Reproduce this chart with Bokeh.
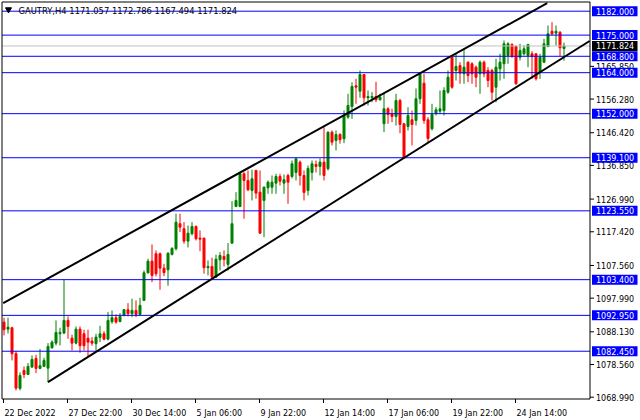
from bokeh.plotting import figure
from bokeh.models import Range1d, ColumnDataSource
from bokeh.core.properties import value
from bokeh.embed import file_html
from bokeh.resources import INLINE

# ---------------- data ----------------
symbol = "GAUTRY,H4"

opens = [1090.97, 1088.92, 1089.33, 1081.72, 1071.56, 1076.83, 1075.66, 1077.80, 1080.34, 1077.42,
         1078.00, 1077.50, 1083.48, 1084.82, 1087.57, 1087.75, 1091.47, 1086.28, 1084.82, 1088.92,
         1087.57, 1086.28, 1085.41, 1084.65, 1086.49, 1087.57, 1085.99, 1091.08, 1092.26, 1091.17,
         1092.93, 1094.60, 1093.43, 1094.39, 1093.22, 1097.33, 1105.43, 1108.82, 1110.99, 1110.99,
         1106.77, 1106.30, 1110.78, 1112.45, 1119.77, 1118.31, 1114.68, 1116.84, 1118.98, 1115.56,
         1115.56, 1106.89, 1107.27, 1104.14, 1109.23, 1110.20, 1107.86, 1114.09, 1124.83, 1124.83,
         1134.40, 1132.44, 1129.52, 1135.37, 1129.02, 1126.59, 1130.31, 1130.48, 1131.66, 1133.61,
         1131.66, 1133.91, 1133.61, 1134.78, 1137.80, 1133.91, 1129.52, 1134.78, 1137.13, 1136.54,
         1137.80, 1135.87, 1146.58, 1144.15, 1145.91, 1144.65, 1150.97, 1154.10, 1160.16, 1158.58,
         1163.47, 1156.65, 1156.65, 1157.03, 1156.06, 1149.04, 1153.43, 1151.97, 1151.17, 1155.86,
         1149.04, 1148.25, 1150.21, 1150.01, 1156.36, 1160.92, 1150.21, 1147.58, 1152.14, 1152.73,
         1152.93, 1158.29, 1168.53, 1164.64, 1166.10, 1163.67, 1167.07, 1166.60, 1165.61, 1163.67,
         1167.07, 1164.64, 1164.64, 1159.75, 1165.14, 1166.60, 1169.03, 1172.25, 1171.67, 1168.53,
         1169.53, 1169.03, 1169.53, 1169.53, 1164.14, 1167.07, 1171.67, 1176.14, 1175.56, 1175.85,
         1171.057]
highs = [1092.26, 1092.26, 1089.60, 1082.50, 1076.25, 1078.00, 1078.97, 1081.22, 1081.43, 1083.07,
         1080.55, 1084.82, 1085.61, 1091.47, 1089.33, 1103.38, 1092.64, 1087.28, 1089.71, 1089.71,
         1088.74, 1088.74, 1086.58, 1087.57, 1089.91, 1088.33, 1093.90, 1094.39, 1093.22, 1093.60,
         1094.80, 1096.53, 1097.82, 1097.33, 1098.11, 1106.10, 1109.52, 1113.71, 1111.95, 1111.37,
         1108.06, 1111.37, 1112.92, 1122.70, 1122.70, 1120.24, 1119.27, 1120.24, 1119.27, 1117.81,
         1115.70, 1109.03, 1109.82, 1110.70, 1111.46, 1111.95, 1114.09, 1126.38, 1129.02, 1134.58,
         1134.87, 1135.37, 1135.58, 1135.58, 1135.37, 1130.69, 1132.44, 1133.91, 1134.40, 1134.40,
         1134.20, 1134.40, 1138.30, 1139.09, 1138.30, 1135.37, 1136.84, 1138.30, 1138.30, 1138.89,
         1148.04, 1146.80, 1147.08, 1147.08, 1146.29, 1152.93, 1157.82, 1161.22, 1162.21, 1164.64,
         1163.60, 1158.79, 1158.29, 1161.33, 1157.82, 1157.82, 1153.90, 1153.43, 1157.82, 1156.36,
         1149.30, 1153.90, 1152.93, 1159.37, 1163.85, 1163.67, 1150.97, 1154.89, 1153.90, 1158.79,
         1159.75, 1164.64, 1168.74, 1169.53, 1167.07, 1170.99, 1167.30, 1167.07, 1166.10, 1167.57,
         1167.57, 1165.61, 1165.14, 1168.07, 1169.53, 1173.42, 1172.92, 1172.63, 1171.96, 1172.46,
         1171.96, 1172.46, 1170.29, 1169.70, 1169.53, 1173.92, 1177.81, 1178.78, 1177.81, 1176.14,
         1172.786]
lows = [1087.08, 1087.66, 1079.76, 1070.98, 1070.98, 1074.58, 1075.46, 1077.60, 1076.04, 1077.20,
        1077.80, 1073.41, 1083.18, 1084.15, 1084.15, 1087.50, 1086.11, 1082.68, 1084.44, 1082.01,
        1082.68, 1081.02, 1084.06, 1082.68, 1085.11, 1085.61, 1085.61, 1090.50, 1090.50, 1090.88,
        1092.64, 1092.64, 1092.43, 1092.43, 1092.93, 1097.12, 1105.14, 1102.68, 1104.35, 1100.45,
        1104.43, 1101.62, 1110.49, 1111.95, 1117.31, 1113.92, 1112.83, 1116.35, 1114.88, 1111.75,
        1105.14, 1104.64, 1103.67, 1103.96, 1106.10, 1107.27, 1106.10, 1113.92, 1124.63, 1124.63,
        1121.23, 1129.31, 1126.59, 1127.09, 1116.80, 1115.85, 1128.55, 1128.55, 1128.55, 1130.98,
        1128.55, 1125.62, 1133.03, 1132.44, 1130.98, 1126.59, 1128.05, 1132.44, 1134.78, 1133.91,
        1132.44, 1135.37, 1142.69, 1141.23, 1143.19, 1143.36, 1150.50, 1150.50, 1154.89, 1156.65,
        1154.40, 1154.40, 1155.36, 1155.36, 1155.86, 1146.58, 1149.04, 1149.51, 1148.54, 1146.29,
        1138.80, 1147.08, 1142.69, 1148.54, 1154.89, 1149.04, 1143.66, 1147.08, 1151.47, 1151.97,
        1151.47, 1157.82, 1159.29, 1161.71, 1160.75, 1160.75, 1161.22, 1160.75, 1159.75, 1157.82,
        1162.68, 1159.75, 1155.86, 1155.36, 1161.71, 1162.21, 1166.60, 1168.36, 1160.54, 1167.57,
        1169.03, 1165.61, 1162.21, 1161.71, 1162.21, 1166.78, 1171.46, 1174.89, 1171.96, 1168.74,
        1167.494]
closes = [1088.74, 1089.50, 1081.72, 1071.65, 1075.37, 1075.66, 1078.00, 1080.05, 1077.42, 1078.21,
          1079.76, 1083.86, 1085.11, 1087.95, 1087.95, 1091.47, 1089.71, 1084.82, 1088.92, 1084.06,
          1084.06, 1085.11, 1084.82, 1086.58, 1087.57, 1085.99, 1091.47, 1092.26, 1090.97, 1092.64,
          1094.60, 1093.43, 1094.39, 1093.22, 1095.86, 1105.43, 1108.82, 1104.64, 1105.14, 1106.77,
          1105.43, 1111.16, 1112.54, 1120.24, 1118.77, 1114.68, 1117.02, 1118.98, 1115.38, 1115.26,
          1106.89, 1107.27, 1104.14, 1109.41, 1110.49, 1109.32, 1110.78, 1119.77, 1126.59, 1134.40,
          1132.44, 1129.72, 1132.94, 1128.73, 1117.02, 1130.48, 1131.95, 1131.95, 1133.61, 1132.24,
          1132.65, 1131.95, 1137.33, 1138.80, 1133.91, 1128.93, 1135.96, 1137.33, 1136.54, 1137.80,
          1133.91, 1146.58, 1143.66, 1145.91, 1144.36, 1151.47, 1154.40, 1159.96, 1159.75, 1163.47,
          1156.65, 1157.03, 1157.03, 1156.06, 1156.83, 1153.43, 1151.76, 1151.17, 1155.86, 1148.83,
          1139.09, 1151.47, 1148.83, 1156.36, 1163.67, 1150.01, 1144.74, 1151.76, 1153.14, 1153.43,
          1158.79, 1162.68, 1159.75, 1165.81, 1163.85, 1165.61, 1163.18, 1163.67, 1162.68, 1167.07,
          1163.67, 1161.71, 1158.29, 1165.61, 1167.07, 1172.46, 1172.46, 1168.74, 1160.75, 1170.50,
          1170.99, 1172.25, 1168.74, 1162.21, 1168.53, 1172.46, 1175.38, 1175.38, 1176.14, 1171.29,
          1171.824]

date_tick_index = [0, 16, 32, 48, 64, 80, 96, 112, 128]
date_labels = ["22 Dec 2022", "27 Dec 22:00", "30 Dec 14:00", "5 Jan 06:00", "9 Jan 22:00",
               "12 Jan 14:00", "17 Jan 06:00", "19 Jan 22:00", "24 Jan 14:00"]
price_ticks = [1068.990, 1078.560, 1088.130, 1097.990, 1107.560, 1117.420,
               1126.990, 1136.850, 1146.420, 1156.280, 1165.850]
level_prices = [1182.000, 1175.000, 1168.800, 1164.000, 1152.000,
                1139.100, 1123.550, 1103.400, 1092.950, 1082.450]
last_price = 1171.824
upper_channel_x = [-0.2, 135.8]
upper_channel_y = [1096.53, 1184.34]
lower_channel_x = [11.0, 146.4]
lower_channel_y = [1073.41, 1173.28]

# ---------------- layout / scales ----------------
W, H = 640, 420
XPX = 4.0                      # pixels per candle slot
x_start = -3.5 / XPX           # candle 0 centred at pixel 3.5
x_end = x_start + W / XPX
PY = 3.4156                    # pixels per price unit
y_end = 1185.133               # price at the top pixel row
y_start = y_end - H / PY


def px_x(px):
    return x_start + px / XPX


def px_y(px):
    return y_end - px / PY


def dx(px):
    return px / XPX


def dy(px):
    return px / PY


X_LEFT = px_x(1.5)
X_RIGHT = px_x(589.5)
Y_TOP = px_y(1.5)
Y_BOT = px_y(398.5)

FONT = value("DejaVu Sans")
FS = "8px"
BULL = "#008000"
BEAR = "#FF0000"

p = figure(width=W, height=H, x_range=Range1d(x_start, x_end), y_range=Range1d(y_start, y_end),
           output_backend="svg", toolbar_location=None,
           x_axis_location=None, y_axis_location=None, min_border=0,
           background_fill_color="white", border_fill_color="white")
p.outline_line_color = None
p.grid.visible = False

# candles
n = len(opens)
idx = list(range(n))
colors = [BULL if c >= o else BEAR for o, c in zip(opens, closes)]
src = ColumnDataSource(dict(
    x=idx, h=highs, l=lows,
    top=[max(o, c) for o, c in zip(opens, closes)],
    bottom=[min(o, c) for o, c in zip(opens, closes)],
    color=colors))
p.segment(x0="x", y0="l", x1="x", y1="h", line_color="color", line_width=1, source=src)
p.vbar(x="x", width=dx(2), top="top", bottom="bottom", fill_color="color",
       line_color="color", line_width=1, source=src)

# horizontal level lines and current price line
nl = len(level_prices)
p.segment(x0=[X_LEFT] * nl, x1=[X_RIGHT] * nl, y0=level_prices, y1=level_prices,
          line_color="#0000FF", line_width=1)
p.segment(x0=[X_LEFT], x1=[X_RIGHT], y0=[last_price], y1=[last_price],
          line_color="#C0C0C0", line_width=1)

# channel lines
p.line(upper_channel_x, upper_channel_y, line_color="black", line_width=2)
p.line(lower_channel_x, lower_channel_y, line_color="black", line_width=2)

# frame
p.segment(x0=[X_LEFT, X_LEFT, X_LEFT, X_RIGHT], y0=[Y_TOP, Y_BOT, Y_BOT, Y_BOT],
          x1=[X_RIGHT, X_RIGHT, X_LEFT, X_RIGHT], y1=[Y_TOP, Y_BOT, Y_TOP, Y_TOP],
          line_color="black", line_width=1)

# price axis: plain ticks
nt = len(price_ticks)
p.segment(x0=[X_RIGHT] * nt, x1=[X_RIGHT + dx(4)] * nt, y0=price_ticks, y1=price_ticks,
          line_color="black", line_width=1)
p.text(x=[X_RIGHT + dx(6)] * nt, y=price_ticks, text=[f"{v:.3f}" for v in price_ticks],
       text_color="black", text_font=FONT, text_font_size=FS, text_baseline="middle",
       text_align="left")

# boxed labels for levels
BOX_L = X_RIGHT + dx(2)
BOX_R = px_x(637)
p.quad(left=[BOX_L] * nl, right=[BOX_R] * nl,
       top=[v + dy(5) for v in level_prices], bottom=[v - dy(5) for v in level_prices],
       fill_color="#0000FF", line_color=None)
p.text(x=[X_RIGHT + dx(6)] * nl, y=level_prices, text=[f"{v:.3f}" for v in level_prices],
       text_color="white", text_font=FONT, text_font_size=FS, text_baseline="middle",
       text_align="left")
p.quad(left=[BOX_L], right=[BOX_R], top=[last_price + dy(5)],
       bottom=[last_price - dy(5)], fill_color="black", line_color=None)
p.text(x=[X_RIGHT + dx(6)], y=[last_price], text=[f"{last_price:.3f}"],
       text_color="white", text_font=FONT, text_font_size=FS, text_baseline="middle",
       text_align="left")

# time axis
nd = len(date_tick_index)
tick_x = [t - dx(0.5) for t in date_tick_index]
p.segment(x0=tick_x, x1=tick_x, y0=[Y_BOT] * nd, y1=[Y_BOT - dy(4)] * nd,
          line_color="black", line_width=1)
p.text(x=[t + dx(1) for t in tick_x], y=[px_y(412.5)] * nd, text=date_labels,
       text_color="black", text_font=FONT, text_font_size=FS, text_baseline="alphabetic",
       text_align="left")

# header
header = f"{symbol}  {opens[-1]:.3f} {highs[-1]:.3f} {lows[-1]:.3f} {closes[-1]:.3f}"
p.scatter(x=[px_x(8)], y=[px_y(9)], marker="inverted_triangle", size=6,
          fill_color="black", line_color="black")
p.text(x=[px_x(18)], y=[px_y(10.5)], text=[header], text_color="black",
       text_font=FONT, text_font_size="8.4px", text_baseline="middle", text_align="left")

open("out.html", "w").write(file_html(p, INLINE))
